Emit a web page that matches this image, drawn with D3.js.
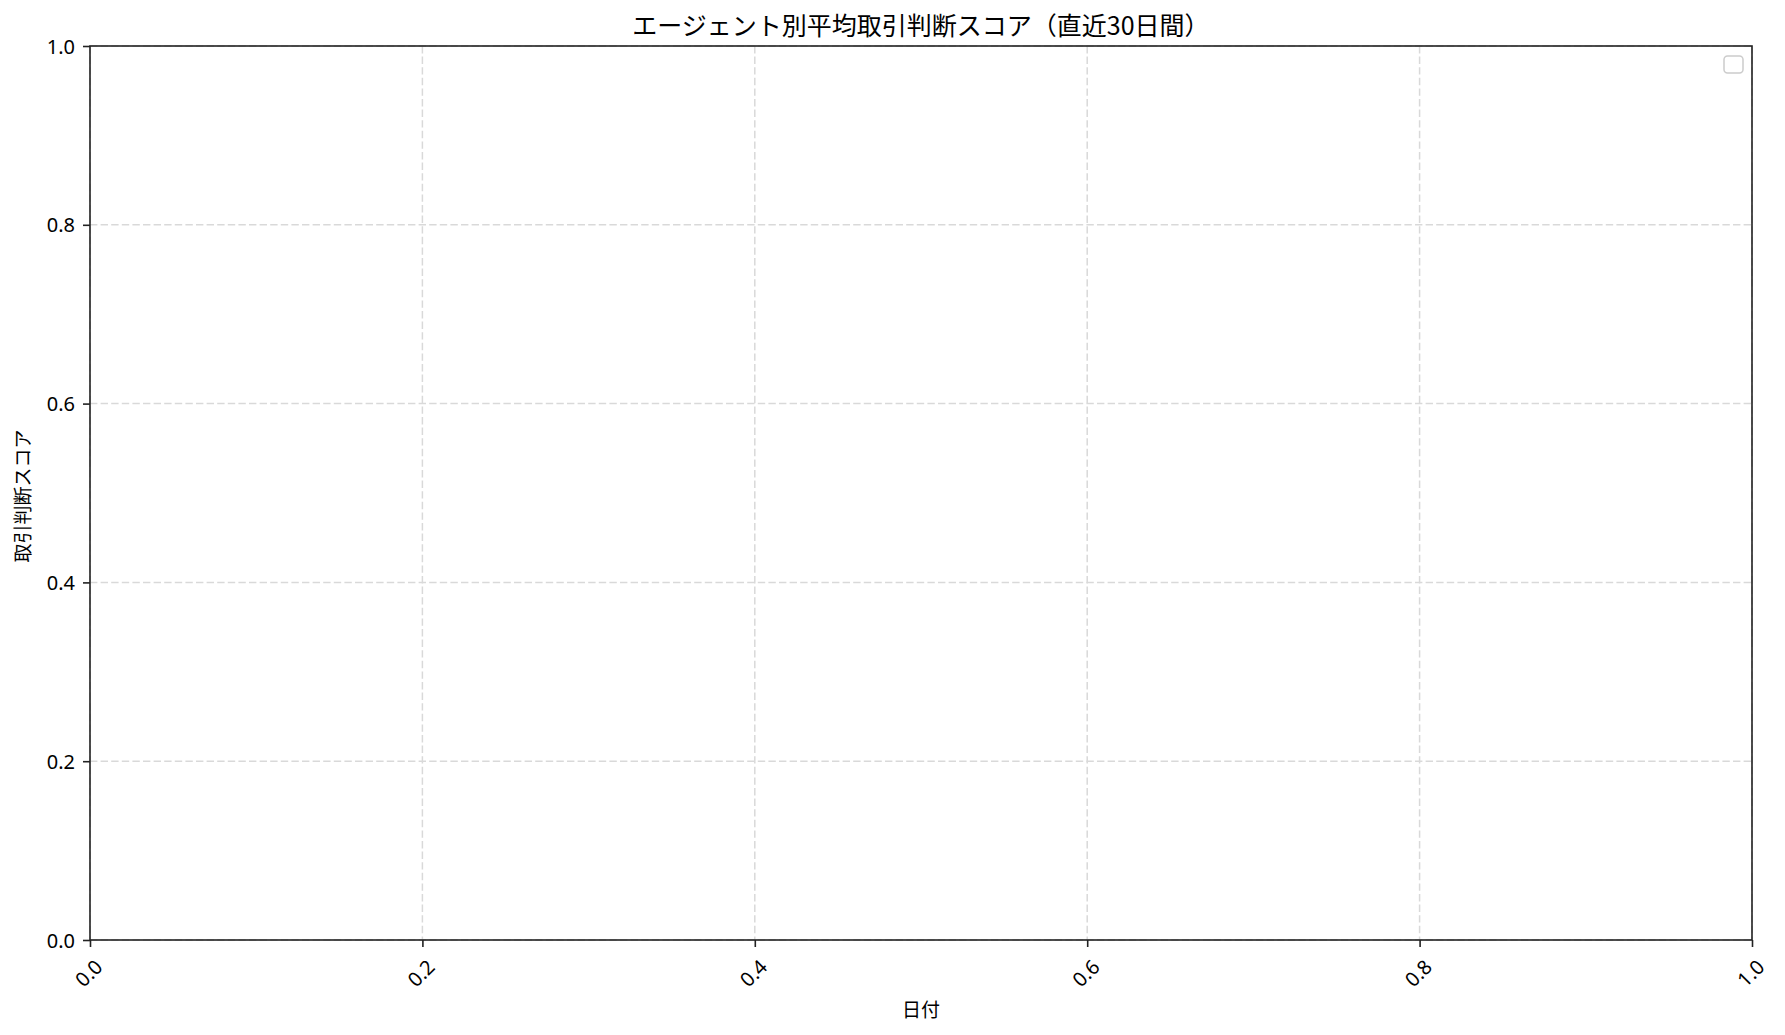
<!DOCTYPE html>
<html>
<head>
<meta charset="utf-8">
<script src="https://cdn.jsdelivr.net/npm/d3@7"></script>
<style>
  body { margin: 0; background: #fff; }
  text { font-family: "Noto Sans CJK JP", "Noto Sans", sans-serif; fill: #000; }
  .tick text { font-family: "Noto Sans", "Noto Sans CJK JP", sans-serif; }
</style>
</head>
<body>
<div id="chart"></div>
<script>
// chart texts
const title = 'エージェント別平均取引判断スコア（直近30日間）';
const xLabel = '日付';
const yLabel = '取引判断スコア';

// no series were plotted in the source chart: empty data
const agents = [];
const dates = [];
const scores = [];

// default 0..1 axes
const xDomain = [0, 1];
const yDomain = [0, 1];
const xTickValues = [0, 0.2, 0.4, 0.6, 0.8, 1.0];
const yTickValues = [0, 0.2, 0.4, 0.6, 0.8, 1.0];

function draw() {
    const width = 1785;
    const height = 1035;
    const margin = {top: 46, right: 33, bottom: 95, left: 90};
    const plotW = width - margin.left - margin.right;
    const plotH = height - margin.top - margin.bottom;

    const svg = d3.select('#chart')
        .append('svg')
        .attr('width', width)
        .attr('height', height);

    const x = d3.scaleLinear().domain(xDomain).range([0, plotW]);
    const y = d3.scaleLinear().domain(yDomain).range([plotH, 0]);

    const g = svg.append('g')
        .attr('transform', 'translate(' + margin.left + ',' + margin.top + ')');

    // grid
    g.append('g')
        .attr('class', 'grid-x')
        .selectAll('line')
        .data(xTickValues)
        .enter()
        .append('line')
        .attr('x1', d => x(d))
        .attr('x2', d => x(d))
        .attr('y1', 0)
        .attr('y2', plotH)
        .attr('stroke', '#d9d9d9')
        .attr('stroke-width', 1.5)
        .attr('stroke-dasharray', '7.4,3.2');

    g.append('g')
        .attr('class', 'grid-y')
        .selectAll('line')
        .data(yTickValues)
        .enter()
        .append('line')
        .attr('x1', 0)
        .attr('x2', plotW)
        .attr('y1', d => y(d))
        .attr('y2', d => y(d))
        .attr('stroke', '#d9d9d9')
        .attr('stroke-width', 1.5)
        .attr('stroke-dasharray', '7.4,3.2');

    // series (none)
    const color = d3.scaleOrdinal(d3.schemeCategory10).domain(agents);
    const line = d3.line().x((d, i) => x(dates[i])).y(d => y(d));
    g.selectAll('.series')
        .data(scores)
        .enter()
        .append('path')
        .attr('class', 'series')
        .attr('fill', 'none')
        .attr('stroke', (d, i) => color(agents[i]))
        .attr('d', line);

    // axes
    const xAxis = g.append('g')
        .attr('transform', 'translate(0,' + plotH + ')')
        .call(d3.axisBottom(x).tickValues(xTickValues).tickFormat(d3.format('.1f')).tickSizeOuter(0).tickSize(7));
    xAxis.select('.domain').remove();
    xAxis.selectAll('.tick line').attr('stroke', '#222').attr('stroke-width', 1.6);
    xAxis.selectAll('.tick text')
        .attr('font-size', 20)
        .attr('y', 0)
        .attr('dy', null)
        .attr('text-anchor', 'middle')
        .attr('dominant-baseline', 'central')
        .attr('transform', 'translate(-2,33) rotate(-45)');

    const yAxis = g.append('g')
        .call(d3.axisLeft(y).tickValues(yTickValues).tickFormat(d3.format('.1f')).tickSizeOuter(0).tickSize(7));
    yAxis.select('.domain').remove();
    yAxis.selectAll('.tick line').attr('stroke', '#222').attr('stroke-width', 1.6);
    yAxis.selectAll('.tick text')
        .attr('font-size', 20)
        .attr('x', -15)
        .attr('dy', '0.35em');

    // frame
    g.append('rect')
        .attr('x', 0)
        .attr('y', 0)
        .attr('width', plotW)
        .attr('height', plotH)
        .attr('fill', 'none')
        .attr('stroke', '#222')
        .attr('stroke-width', 1.6);

    // empty legend frame
    g.append('rect')
        .attr('x', plotW - 28)
        .attr('y', 10)
        .attr('width', 19)
        .attr('height', 17)
        .attr('rx', 3.5)
        .attr('fill', '#fff')
        .attr('stroke', '#cccccc')
        .attr('stroke-width', 1.5);

    // texts
    svg.append('text')
        .attr('x', margin.left + plotW / 2)
        .attr('y', 24)
        .attr('text-anchor', 'middle')
        .attr('dominant-baseline', 'central')
        .attr('font-size', 25)
        .text(title);

    svg.append('text')
        .attr('x', margin.left + plotW / 2)
        .attr('y', 1008)
        .attr('text-anchor', 'middle')
        .attr('dominant-baseline', 'central')
        .attr('font-size', 19)
        .text(xLabel);

    svg.append('text')
        .attr('transform', 'translate(21,' + (margin.top + plotH / 2 + 3) + ') rotate(-90)')
        .attr('text-anchor', 'middle')
        .attr('dominant-baseline', 'central')
        .attr('font-size', 19)
        .text(yLabel);
}

draw();
</script>
</body>
</html>
